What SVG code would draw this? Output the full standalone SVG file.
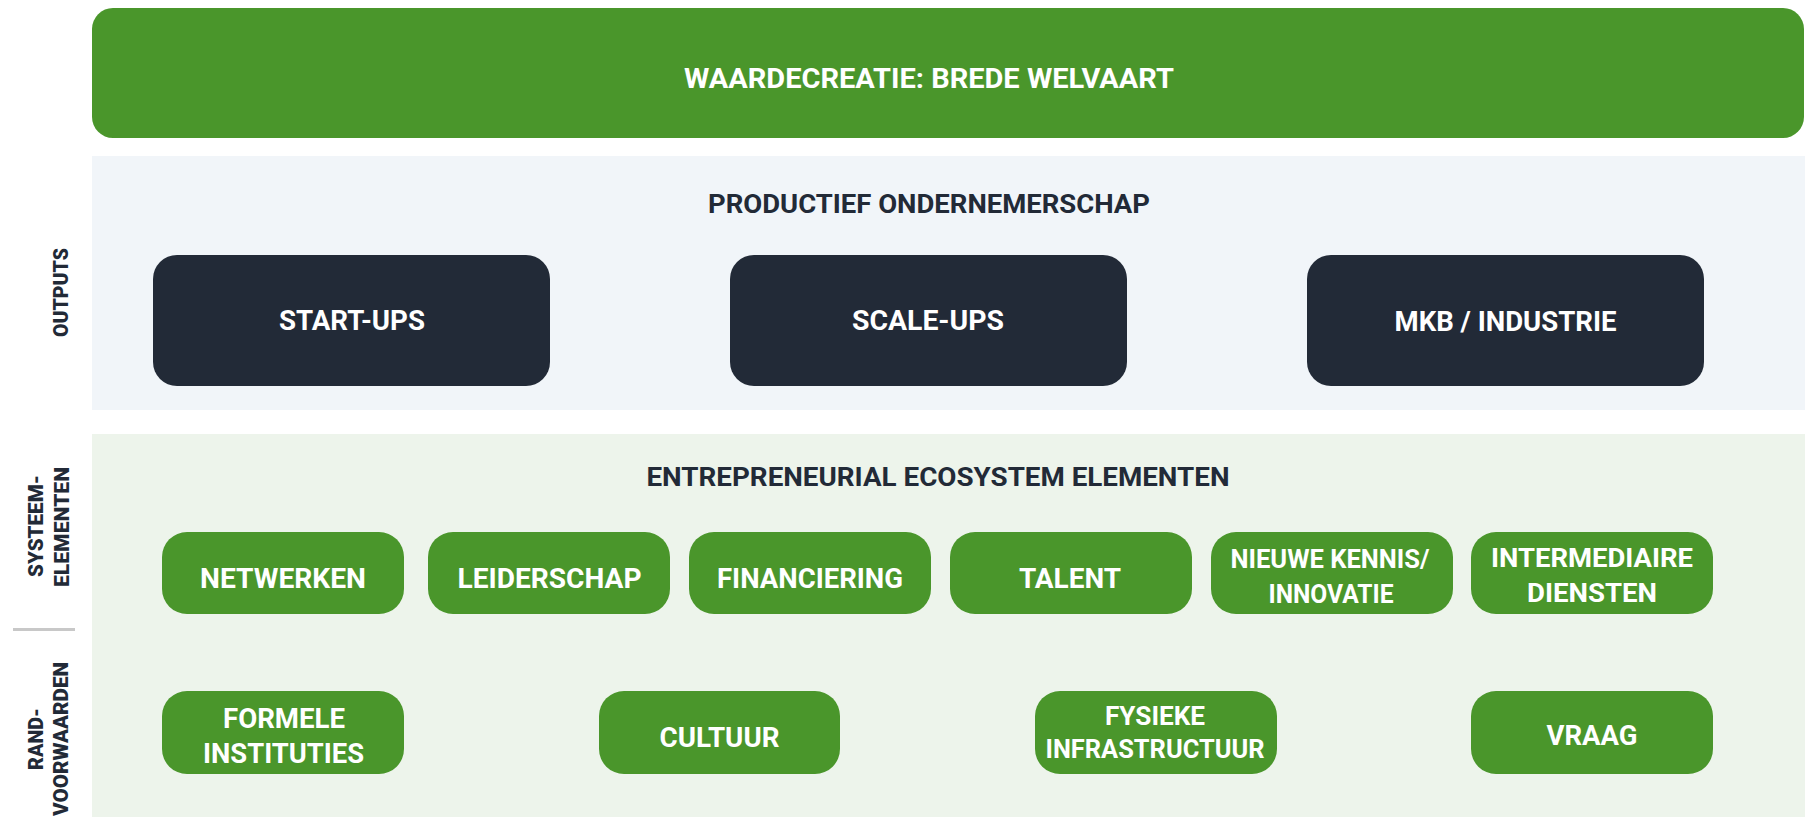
<svg xmlns="http://www.w3.org/2000/svg" width="1805" height="817" viewBox="0 0 1805 817">
<style>
text{font-family:Roboto,"Liberation Sans",Arial,sans-serif;font-weight:700;text-anchor:middle}
.w{fill:#ffffff}
.d{fill:#222a37}
.g{fill:#4a962b}
.k{fill:#222a37}
.h{font-size:26px}
.t{font-size:27px}
.s{font-size:25px}
.l{font-size:21px;font-weight:900}
</style>
<rect x="0" y="0" width="1805" height="817" fill="#ffffff"/>
<g id="panel-outputs"><rect x="92" y="156" width="1713" height="254" fill="#f1f5f9"/></g>
<g id="panel-ecosystem"><rect x="92" y="434" width="1713" height="383" fill="#edf4eb"/></g>
<g id="side-labels">
<text class="k l" transform="translate(68,292.5) rotate(-90)" textLength="89" lengthAdjust="spacingAndGlyphs">OUTPUTS</text>
<text class="k l" transform="translate(43,526) rotate(-90)" textLength="102" lengthAdjust="spacingAndGlyphs">SYSTEEM-</text>
<text class="k l" transform="translate(69,527) rotate(-90)" textLength="120" lengthAdjust="spacingAndGlyphs">ELEMENTEN</text>
<line x1="13" y1="629.5" x2="75" y2="629.5" stroke="#c8c8c8" stroke-width="3"/>
<text class="k l" transform="translate(43,739) rotate(-90)" textLength="62" lengthAdjust="spacingAndGlyphs">RAND-</text>
<text class="k l" transform="translate(68,739) rotate(-90)" textLength="154" lengthAdjust="spacingAndGlyphs">VOORWAARDEN</text>
</g>
<g id="waardecreatie">
<rect x="92" y="8" width="1712" height="130" rx="21" class="g"/>
<text class="w" x="929" y="88" font-size="28" textLength="490" lengthAdjust="spacingAndGlyphs">WAARDECREATIE: BREDE WELVAART</text>
</g>
<g id="title-productief"><text class="k h" x="929" y="213" textLength="442" lengthAdjust="spacingAndGlyphs">PRODUCTIEF ONDERNEMERSCHAP</text></g>
<g id="title-ecosystem"><text class="k h" x="938" y="486" textLength="583" lengthAdjust="spacingAndGlyphs">ENTREPRENEURIAL ECOSYSTEM ELEMENTEN</text></g>
<g id="start-ups"><rect x="153" y="255" width="397" height="131" rx="24" class="d"/><text class="w t" x="352" y="330" textLength="146" lengthAdjust="spacingAndGlyphs">START-UPS</text></g>
<g id="scale-ups"><rect x="730" y="255" width="397" height="131" rx="24" class="d"/><text class="w t" x="928" y="330" textLength="152" lengthAdjust="spacingAndGlyphs">SCALE-UPS</text></g>
<g id="mkb-industrie"><rect x="1307" y="255" width="397" height="131" rx="24" class="d"/><text class="w t" x="1505.5" y="331" textLength="222" lengthAdjust="spacingAndGlyphs">MKB / INDUSTRIE</text></g>
<g id="netwerken"><rect x="162" y="532" width="242" height="82" rx="25" class="g"/><text class="w t" x="283" y="588" textLength="166" lengthAdjust="spacingAndGlyphs">NETWERKEN</text></g>
<g id="leiderschap"><rect x="428" y="532" width="242" height="82" rx="25" class="g"/><text class="w t" x="549.5" y="588" textLength="184" lengthAdjust="spacingAndGlyphs">LEIDERSCHAP</text></g>
<g id="financiering"><rect x="689" y="532" width="242" height="82" rx="25" class="g"/><text class="w t" x="810" y="588" textLength="186" lengthAdjust="spacingAndGlyphs">FINANCIERING</text></g>
<g id="talent"><rect x="950" y="532" width="242" height="82" rx="25" class="g"/><text class="w t" x="1070" y="588" textLength="102" lengthAdjust="spacingAndGlyphs">TALENT</text></g>
<g id="nieuwe-kennis"><rect x="1211" y="532" width="242" height="82" rx="25" class="g"/><text class="w s" x="1330" y="568" textLength="199" lengthAdjust="spacingAndGlyphs">NIEUWE KENNIS/</text><text class="w s" x="1331" y="603" textLength="125" lengthAdjust="spacingAndGlyphs">INNOVATIE</text></g>
<g id="intermediaire-diensten"><rect x="1471" y="532" width="242" height="82" rx="25" class="g"/><text class="w s" x="1592" y="567" textLength="202" lengthAdjust="spacingAndGlyphs">INTERMEDIAIRE</text><text class="w s" x="1592" y="602" textLength="130" lengthAdjust="spacingAndGlyphs">DIENSTEN</text></g>
<g id="formele-instituties"><rect x="162" y="691" width="242" height="83" rx="25" class="g"/><text class="w t" x="284" y="728" textLength="122" lengthAdjust="spacingAndGlyphs">FORMELE</text><text class="w t" x="283.5" y="763" textLength="161" lengthAdjust="spacingAndGlyphs">INSTITUTIES</text></g>
<g id="cultuur"><rect x="599" y="691" width="241" height="83" rx="25" class="g"/><text class="w t" x="719.5" y="747" textLength="120" lengthAdjust="spacingAndGlyphs">CULTUUR</text></g>
<g id="fysieke-infrastructuur"><rect x="1035" y="691" width="242" height="83" rx="25" class="g"/><text class="w s" x="1155" y="725" textLength="100" lengthAdjust="spacingAndGlyphs">FYSIEKE</text><text class="w s" x="1155" y="758" textLength="219" lengthAdjust="spacingAndGlyphs">INFRASTRUCTUUR</text></g>
<g id="vraag"><rect x="1471" y="691" width="242" height="83" rx="25" class="g"/><text class="w t" x="1592" y="745" textLength="91" lengthAdjust="spacingAndGlyphs">VRAAG</text></g>
<g id="connectors"/>
</svg>
